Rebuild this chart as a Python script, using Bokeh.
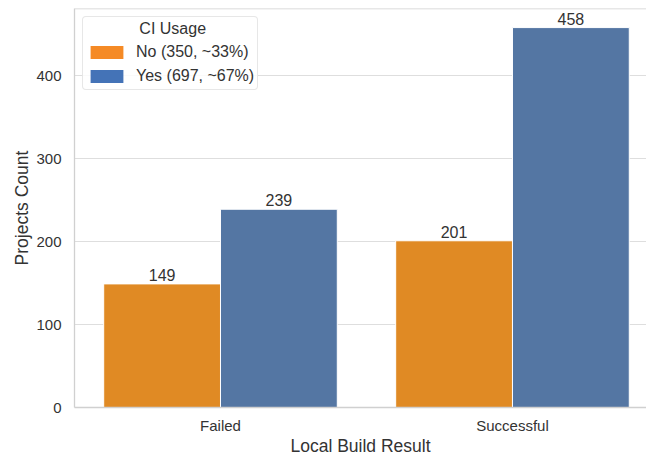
from bokeh.plotting import figure
from bokeh.models import ColumnDataSource, FixedTicker, Span, Legend, LegendItem, LabelSet
from bokeh.transform import dodge
from bokeh.core.properties import value
from bokeh.embed import file_html
from bokeh.resources import INLINE

categories = ["Failed", "Successful"]
series_names = ["No (350, ~33%)", "Yes (697, ~67%)"]
no_counts = [149, 201]
yes_counts = [239, 458]
y_ticks = [0, 100, 200, 300, 400]

FONT = "Liberation Sans"
TXT = "#333333"
BAR_ORANGE = "#E08A24"
BAR_BLUE = "#5476A3"
LEG_ORANGE = "#F58A25"
LEG_BLUE = "#4473B7"

idx = list(range(len(categories)))
src = ColumnDataSource(dict(idx=idx, no=no_counts, yes=yes_counts,
                            no_txt=[str(v) for v in no_counts],
                            yes_txt=[str(v) for v in yes_counts]))

p = figure(width=646, height=458, output_backend="svg", toolbar_location=None,
           x_range=(-0.5, 1.459), y_range=(0, 481),
           min_border_left=74, min_border_right=0, min_border_top=8, min_border_bottom=48)
p.outline_line_color = None
p.background_fill_color = "white"
p.border_fill_color = "white"

p.xgrid.grid_line_color = None
p.ygrid.grid_line_color = "#DEDEDE"
p.ygrid.grid_line_width = 1.2

p.vbar(x=dodge("idx", -0.2, range=p.x_range), top="no", width=0.4, bottom=0,
       source=src, fill_color=BAR_ORANGE, line_color="white", line_width=1)
p.vbar(x=dodge("idx", 0.2, range=p.x_range), top="yes", width=0.4, bottom=0,
       source=src, fill_color=BAR_BLUE, line_color="white", line_width=1)

for col, off in (("no", -0.2), ("yes", 0.2)):
    lbl = LabelSet(x=dodge("idx", off, range=p.x_range), y=col, text=col + "_txt",
                   source=src, text_align="center", text_baseline="bottom",
                   y_offset=3, text_font=value(FONT), text_font_size=value("16px"),
                   text_color=TXT)
    p.add_layout(lbl)

p.add_layout(Span(location=481, dimension="width", line_color="#D0D0D0", line_width=1.3))

for ax in (p.xaxis[0], p.yaxis[0]):
    ax.axis_line_color = "#D0D0D0"
    ax.axis_line_width = 1.3
    ax.major_tick_line_color = None
    ax.minor_tick_line_color = None
    ax.major_tick_out = 0
    ax.major_tick_in = 0
    ax.minor_tick_out = 0
    ax.major_label_text_font = FONT
    ax.major_label_text_color = TXT
    ax.major_label_text_font_size = "15px"
    ax.axis_label_text_font = FONT
    ax.axis_label_text_color = TXT
    ax.axis_label_text_font_size = "17.5px"
    ax.axis_label_text_font_style = "normal"

p.xaxis.ticker = FixedTicker(ticks=idx)
p.xaxis.major_label_overrides = {i: c for i, c in zip(idx, categories)}
p.xaxis.major_label_standoff = 9
p.xaxis.axis_label = "Local Build Result"
p.xaxis.axis_label_standoff = -1

p.yaxis.ticker = FixedTicker(ticks=y_ticks)
p.yaxis.major_label_standoff = 13
p.yaxis.axis_label = "Projects Count"
p.yaxis.axis_label_standoff = 1

r_no = p.vbar(x="idx", top=0, bottom=0, width=0, source=src,
              fill_color=LEG_ORANGE, line_color=None)
r_yes = p.vbar(x="idx", top=0, bottom=0, width=0, source=src,
               fill_color=LEG_BLUE, line_color=None)

legend = Legend(items=[LegendItem(label=series_names[0], renderers=[r_no]),
                       LegendItem(label=series_names[1], renderers=[r_yes])],
                location="top_left")
legend.title = "\u00a0" * 12 + "CI Usage"
legend.title_text_font = FONT
legend.title_text_font_size = "16px"
legend.title_text_font_style = "normal"
legend.title_text_color = TXT
legend.title_standoff = 4
legend.label_text_font = FONT
legend.label_text_font_size = "16px"
legend.label_text_color = TXT
legend.glyph_width = 41
legend.glyph_height = 16
legend.label_standoff = 9
legend.label_height = 20
legend.spacing = 4
legend.padding = 3
legend.margin = 8
legend.border_line_color = "#D0D0D0"
legend.border_line_width = 1
legend.border_radius = 4
legend.background_fill_alpha = 0.85
p.add_layout(legend)

open("out.html", "w").write(file_html(p, INLINE))
